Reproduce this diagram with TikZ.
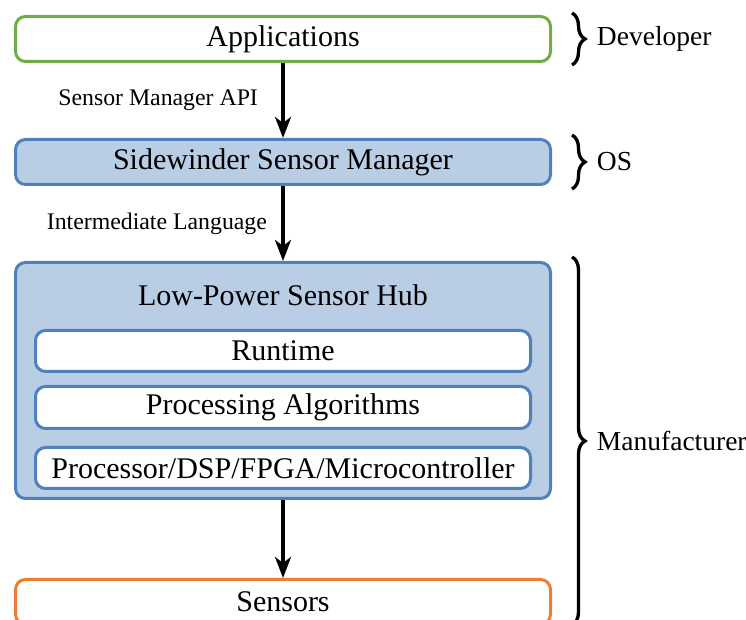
\documentclass[tikz,border=0pt]{standalone}
\usepackage{fontspec}
\setmainfont{Liberation Serif}
\usetikzlibrary{decorations.pathreplacing, arrows.meta}
\definecolor{devgreen}{HTML}{70AD47}
\definecolor{osblue}{HTML}{4F81BD}
\definecolor{osfill}{HTML}{B9CDE5}
\definecolor{hworange}{HTML}{ED7D31}

\begin{document}
\begin{tikzpicture}[x=1pt, y=1pt,
        layer/.style={draw, line width=3pt, rounded corners=10pt, minimum width=535pt, minimum height=45pt, inner sep=0pt, font=\fontsize{30}{36}\selectfont},
        sublayer/.style={layer, draw=osblue, fill=white, minimum width=495pt, minimum height=41pt},
        flow/.style={-{Stealth[length=21pt, width=16pt, inset=6pt]}, line width=3.5pt},
        role/.style={decorate, decoration={brace, amplitude=13pt}, line width=3.3pt},
        rolename/.style={font=\fontsize{27.5}{33}\selectfont},
        flowname/.style={font=\fontsize{23.8}{28}\selectfont}]
        \useasboundingbox (0,0) rectangle (746,620);
        % layers
        \node[layer, draw=devgreen, fill=white] (app) at (283,581) {Applications};
        \node[layer, draw=osblue, fill=osfill] (mgr) at (283,458) {Sidewinder Sensor Manager};
        \node[layer, draw=osblue, fill=osfill, minimum height=236pt] (hub) at (283,239.5) {};
        \node[font=\fontsize{30}{36}\selectfont] (hubname) at (283,325) {Low-Power Sensor Hub};
        \node[sublayer] (runtime) at (283,269) {Runtime};
        \node[sublayer, minimum height=42pt] (algo) at (283,212.5) {Processing Algorithms};
        \node[sublayer] (proc) at (283,152) {Processor/DSP/FPGA/Microcontroller};
        \node[layer, draw=hworange, fill=white] (sens) at (283,18) {Sensors};
        % interfaces
        \draw[flow] (app.south) -- (mgr.north) node[midway, left=20pt, flowname] (api) {Sensor Manager API};
        \draw[flow] (mgr.south) -- (hub.north) node[midway, left=11pt, flowname] (il) {Intermediate Language};
        \draw[flow] (hub.south) -- (sens.north);
        % who owns what
        \draw[role] (572,607) -- (572,555) node[midway, right=20pt, rolename] (dev) {Developer};
        \draw[role] (572,485) -- (572,431) node[midway, right=20pt, rolename] (os) {OS};
        \draw[role] (572,363) -- (572,-5) node[midway, right=20pt, rolename] (manu) {Manufacturer};
    \end{tikzpicture}
\end{document}
